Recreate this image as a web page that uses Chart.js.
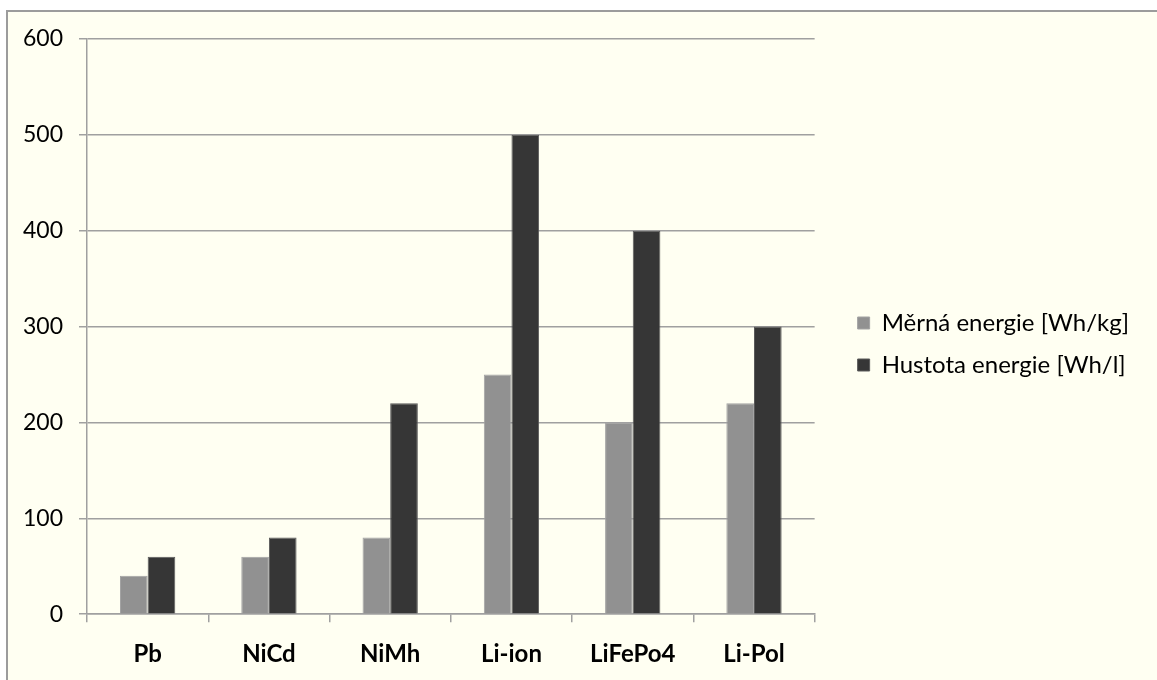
<!DOCTYPE html>
<html>
<head>
<meta charset="utf-8">
<script src="https://cdn.jsdelivr.net/npm/chart.js@4/dist/chart.umd.min.js"></script>
<style>
  html, body { margin: 0; padding: 0; background: #ffffff; }
  #wrap { width: 1157px; height: 680px; }
</style>
</head>
<body>
<div id="wrap"><canvas id="c" width="1157" height="680"></canvas></div>
<script>
// Battery chemistries and their energy figures
const categories = ['Pb', 'NiCd', 'NiMh', 'Li-ion', 'LiFePo4', 'Li-Pol'];
const specificEnergy = [40, 60, 80, 250, 200, 220];   // Wh/kg
const energyDensity = [60, 80, 220, 500, 400, 300];   // Wh/l
const yTicks = [0, 100, 200, 300, 400, 500, 600];
const seriesNames = ['Měrná energie [Wh/kg]', 'Hustota energie [Wh/l]'];

const FONT = 'Lato, "Open Sans", sans-serif';
const AXIS_GREY = '#a0a0a0';

// Cream panel with a thin grey frame behind the whole chart
const panel = {
  id: 'panel',
  beforeDraw(chart) {
    const ctx = chart.ctx;
    ctx.save();
    ctx.fillStyle = '#ffffff';
    ctx.fillRect(0, 0, chart.width, chart.height);
    ctx.fillStyle = '#fffff2';
    ctx.fillRect(8, 12, chart.width - 8, chart.height - 12);
    ctx.fillStyle = '#9c9c9c';
    ctx.fillRect(6, 10, 2, chart.height - 10);
    ctx.fillRect(6, 10, chart.width - 6, 2);
    ctx.restore();
  }
};

// Lift the legend block a little above the vertical centre
const legendLift = {
  id: 'legendLift',
  afterLayout(chart) {
    const lg = chart.legend;
    if (lg) { lg.top -= 19; lg.bottom -= 19; }
  }
};

new Chart(document.getElementById('c'), {
  type: 'bar',
  data: {
    labels: categories,
    datasets: [
      {
        label: seriesNames[0],
        data: specificEnergy,
        backgroundColor: '#919191',
        borderColor: '#a3a3a3',
        borderWidth: 1,
        categoryPercentage: 0.456,
        barPercentage: 1.0
      },
      {
        label: seriesNames[1],
        data: energyDensity,
        backgroundColor: '#363636',
        borderColor: '#5a5a5a',
        borderWidth: 1,
        categoryPercentage: 0.456,
        barPercentage: 1.0
      }
    ]
  },
  options: {
    responsive: false,
    animation: false,
    events: [],
    layout: { padding: { left: 7, right: 18, top: 39, bottom: -7 } },
    plugins: {
      tooltip: { enabled: false },
      legend: {
        position: 'right',
        maxWidth: 420,
        labels: {
          boxWidth: 12,
          boxHeight: 12,
          padding: 18,
          color: '#000000',
          font: { family: FONT, size: 24 }
        }
      }
    },
    scales: {
      x: {
        grid: {
          drawOnChartArea: false,
          drawTicks: true,
          tickLength: 8,
          color: AXIS_GREY,
          lineWidth: 1.5,
          offset: true
        },
        border: { display: true, color: AXIS_GREY, width: 1.5 },
        ticks: {
          color: '#000000',
          padding: 18,
          font: { family: FONT, size: 24, weight: 'bold' }
        }
      },
      y: {
        min: 0,
        max: 600,
        afterBuildTicks(scale) { scale.ticks = yTicks.map(v => ({ value: v })); },
        grid: {
          color: AXIS_GREY,
          lineWidth: 1.5,
          drawTicks: true,
          tickLength: 8
        },
        border: { display: true, color: AXIS_GREY, width: 1.5 },
        ticks: {
          color: '#000000',
          padding: 16,
          font: { family: FONT, size: 23 }
        }
      },
      gap: {
        type: 'linear',
        position: 'right',
        display: true,
        grid: { display: false },
        border: { display: false },
        ticks: { display: false },
        afterFit(scale) { scale.width = 25; }
      }
    }
  },
  plugins: [panel, legendLift]
});
</script>
</body>
</html>
